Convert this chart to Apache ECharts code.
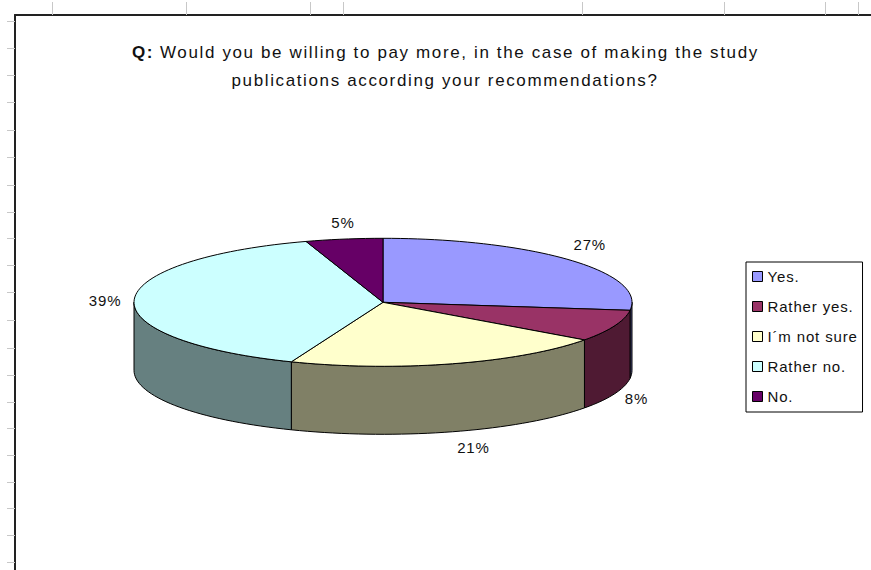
<!DOCTYPE html>
<html>
<head>
<meta charset="utf-8">
<style>
  html, body { margin: 0; padding: 0; background: #fff; }
  #chart { width: 871px; height: 570px; }
  /* Wide tracking of the chart's sans-serif lettering */
  #chart text { letter-spacing: 0.85px; }
  #chart text[style*="17px"] { letter-spacing: 1.63px; }
</style>
<script src="https://cdn.jsdelivr.net/npm/echarts@6/dist/echarts.min.js"></script>
</head>
<body>
<div id="chart"></div>
<script>
// Survey answers, in percent, clockwise from twelve o'clock
const categories = ['Yes.', 'Rather yes.', 'I´m not sure', 'Rather no.', 'No.'];
const shares = [27, 8, 21, 39, 5];
const topColors = ['#9999FF', '#993366', '#FFFFCC', '#CCFFFF', '#660066'];
const wallColors = ['#4D4D80', '#4F1A33', '#808066', '#668080', '#330033'];

// Sheet ruler marks around the chart frame
const rulerX = [52, 186, 310, 343, 582, 724, 825, 858];
const rulerY = [21, 48, 75, 102, 130, 157, 185, 212, 238, 265, 292, 320, 348, 375, 402, 428, 455, 482, 508, 535, 562];

// Disc geometry, in axis units
const disc = { cx: 383, cy: 302.3, rx: 249, ry: 64, depth: 68 };
// Where each percentage label sits relative to its slice's rim
const labelNudge = [[20, -15], [22, 5], [21, 16], [-29, 0], [-1, -17]];

const total = shares.reduce((a, b) => a + b, 0);
const FONT = '15px "Liberation Sans", Arial, sans-serif';

function rim(deg, drop) {
  const t = deg * Math.PI / 180;
  return [disc.cx + disc.rx * Math.sin(t), disc.cy - disc.ry * Math.cos(t) + drop];
}
function arc(from, to, drop) {
  const pts = [];
  const n = Math.max(1, Math.ceil(Math.abs(to - from) / 2));
  for (let i = 0; i <= n; i++) pts.push(rim(from + (to - from) * i / n, drop));
  return pts;
}

function sliceRenderer(index) {
  const before = shares.slice(0, index).reduce((a, b) => a + b, 0);
  return function (params, api) {
    const share = api.value(0);
    const start = before / total * 360;
    const end = (before + share) / total * 360;
    const px = pts => pts.map(p => api.coord(p));
    const children = [];

    // Front wall only where the slice faces the viewer
    const a = Math.max(start, 90), b = Math.min(end, 270);
    if (b > a) {
      const wall = arc(a, b, 0).concat(arc(b, a, disc.depth));
      children.push({
        type: 'polygon', shape: { points: px(wall) },
        style: { fill: wallColors[index], stroke: '#000', lineWidth: 1 }
      });
    }
    // Top face
    const face = [[disc.cx, disc.cy]].concat(arc(start, end, 0));
    children.push({
      type: 'polygon', shape: { points: px(face) },
      style: { fill: topColors[index], stroke: '#000', lineWidth: 1 }
    });
    // Percentage label
    const mid = (start + end) / 2;
    const onWall = mid > 90 && mid < 270;
    const anchor = rim(mid, onWall ? disc.depth : 0);
    const pos = api.coord([anchor[0] + labelNudge[index][0], anchor[1] + labelNudge[index][1]]);
    children.push({
      type: 'text', z2: 10,
      style: {
        text: share + '%', x: pos[0], y: pos[1], font: FONT,
        fill: '#111', align: 'center', verticalAlign: 'middle'
      }
    });
    return { type: 'group', children };
  };
}

const chart = echarts.init(document.getElementById('chart'), null, { renderer: 'svg' });
chart.setOption({
  animation: false,
  backgroundColor: '#fff',
  title: [
    { text: 'Q:', left: 132, top: 44, padding: 0,
      textStyle: { fontFamily: 'Liberation Sans', fontSize: 17, fontWeight: 'bold', color: '#111' } },
    { text: 'Would you be willing to pay more, in the case of making the study', left: 160, top: 44, padding: 0,
      textStyle: { fontFamily: 'Liberation Sans', fontSize: 17, fontWeight: 'normal', color: '#111' } },
    { text: 'publications according your recommendations?', left: 445, top: 72, padding: 0, textAlign: 'center',
      textStyle: { fontFamily: 'Liberation Sans', fontSize: 17, fontWeight: 'normal', color: '#111' } }
  ],
  grid: { left: 15, top: 15, right: 0, bottom: 0 },
  xAxis: {
    type: 'value', position: 'top', min: 15, max: 871,
    splitLine: { show: false }, axisLabel: { show: false },
    axisLine: { show: true, onZero: false, lineStyle: { color: '#222', width: 2 } },
    axisTick: { show: true, length: 13, customValues: rulerX, lineStyle: { color: '#c8c8c8', width: 1 } }
  },
  yAxis: {
    type: 'value', position: 'left', inverse: true, min: 15, max: 570,
    splitLine: { show: false }, axisLabel: { show: false },
    axisLine: { show: true, onZero: false, lineStyle: { color: '#222', width: 2 } },
    axisTick: { show: true, length: 8, customValues: rulerY, lineStyle: { color: '#c8c8c8', width: 1 } }
  },
  legend: {
    orient: 'vertical', left: 746, top: 262, icon: 'rect',
    data: categories,
    itemWidth: 10, itemHeight: 10, itemGap: 15,
    padding: [7, 15, 8, 6],
    borderColor: '#000', borderWidth: 1, backgroundColor: '#fff',
    selectedMode: false,
    textStyle: { fontFamily: 'Liberation Sans', fontSize: 15, color: '#111' },
    itemStyle: { borderColor: '#000', borderWidth: 1 }
  },
  series: categories.map((name, i) => ({
    type: 'custom', name, silent: true, clip: false,
    coordinateSystem: 'cartesian2d',
    itemStyle: { color: topColors[i] },
    encode: { x: 1, y: 2 },
    data: [[shares[i], disc.cx, disc.cy]],
    renderItem: sliceRenderer(i)
  }))
});
</script>
</body>
</html>
